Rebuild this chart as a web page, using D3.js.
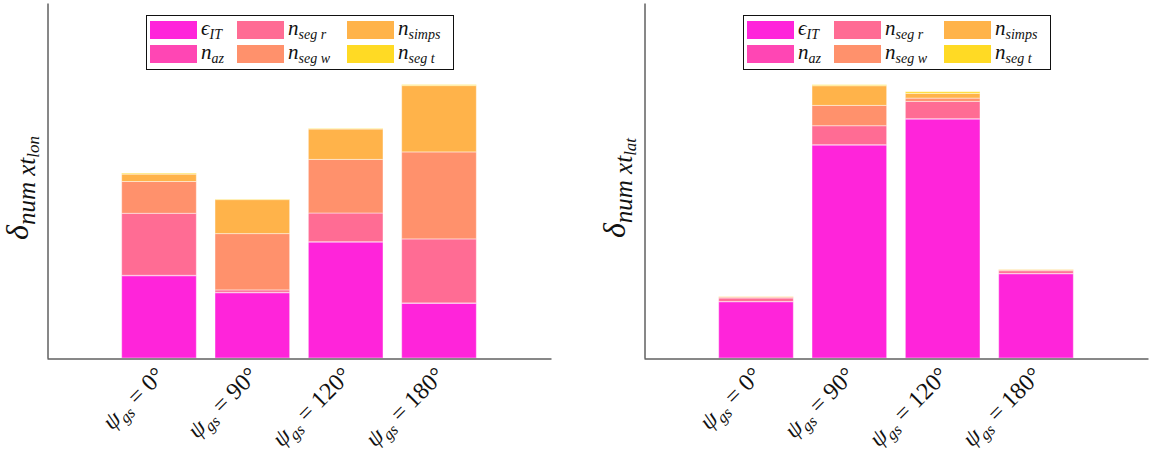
<!DOCTYPE html>
<html>
<head>
<meta charset="utf-8">
<script src="https://cdn.jsdelivr.net/npm/d3@7"></script>
<style>
  body { margin: 0; background: #fff; }
  svg text { font-family: "Liberation Serif", "DejaVu Serif", serif; fill: #111; }
</style>
</head>
<body>
<div id="chart"></div>
<script>

// categories (ground station azimuth)
const angles = ["0", "90", "120", "180"];

// series, bottom to top of each stack
const seriesKeys = ["eIT", "naz", "nsegr", "nsegw", "nsimps", "nsegt"];
const seriesColors = ["#ff24da", "#ff46b4", "#ff6c94", "#ff916c", "#ffb34a", "#ffda24"];

// left panel: delta num xt_lon
const lonEIT    = [0.823, 0.653, 1.160, 0.547];
const lonNaz    = [0.004, 0.004, 0.003, 0.004];
const lonNsegR  = [0.620, 0.024, 0.287, 0.640];
const lonNsegW  = [0.318, 0.563, 0.536, 0.870];
const lonNsimps = [0.074, 0.340, 0.304, 0.663];
const lonNsegT  = [0.010, 0.005, 0.005, 0.010];

// right panel: delta num xt_lat
const latEIT    = [0.563, 2.130, 2.390, 0.843];
const latNaz    = [0.003, 0.003, 0.003, 0.003];
const latNsegR  = [0.034, 0.190, 0.173, 0.027];
const latNsegW  = [0.010, 0.203, 0.033, 0.010];
const latNsimps = [0.003, 0.197, 0.047, 0.003];
const latNsegT  = [0.002, 0.010, 0.017, 0.002];

const yMax = 3.55;

const width = 1152, height = 455;

const svg = d3.select("#chart").append("svg")
    .attr("width", width)
    .attr("height", height);

function buildRows(cols) {
    return angles.map(function(a, i) {
        let row = {angle: a};
        seriesKeys.forEach(function(k, j) { row[k] = cols[j][i]; });
        return row;
    });
}

function drawPanel(opts) {
    let left = opts.left, right = opts.left + 504;
    let top = 3, bottom = 358;

    let g = svg.append("g");

    let x = d3.scaleBand()
        .domain(angles)
        .range([left, right])
        .paddingInner(0.2)
        .paddingOuter(0.8);

    let y = d3.scaleLinear()
        .domain([0, yMax])
        .range([bottom, top]);

    let rows = buildRows(opts.cols);
    let stacked = d3.stack().keys(seriesKeys)(rows);

    g.selectAll(".layer")
        .data(stacked)
        .enter().append("g")
        .attr("class", "layer")
        .attr("fill", function(d, i) { return seriesColors[i]; })
        .selectAll("rect")
        .data(function(d) { return d; })
        .enter().append("rect")
        .attr("x", function(d) { return x(d.data.angle); })
        .attr("width", x.bandwidth())
        .attr("y", function(d) { return y(d[1]); })
        .attr("height", function(d) { return Math.max(0, y(d[0]) - y(d[1])); })
        .attr("stroke", "#ffffff")
        .attr("stroke-opacity", 0.45)
        .attr("stroke-width", 1);

    // axes
    let yAxis = d3.axisLeft(y).ticks(0).tickSize(0).tickSizeOuter(0);
    let xAxis = d3.axisBottom(x).tickSize(0).tickFormat(function() { return ""; });

    g.append("g")
        .attr("transform", "translate(" + (left + 0.5) + ",0)")
        .call(yAxis)
        .call(function(s) { s.select(".domain").attr("stroke", "#111"); });

    g.append("g")
        .attr("transform", "translate(0," + (bottom + 0.5) + ")")
        .call(xAxis)
        .call(function(s) { s.select(".domain").attr("stroke", "#111"); });

    // tick labels, rotated
    let lab = g.selectAll(".xlab")
        .data(angles)
        .enter().append("text")
        .attr("class", "xlab")
        .attr("text-anchor", "end")
        .attr("transform", function(d) {
            return "translate(" + (x(d) + x.bandwidth() / 2 + 7) + "," + 377 + ") rotate(-45)";
        })
        .style("font-size", "24px");
    lab.append("tspan").style("font-style", "italic").text("ψ");
    lab.append("tspan").style("font-style", "italic").style("font-size", "16px").attr("dy", 5).text("gs");
    lab.append("tspan").attr("dy", -5).text(function(d) { return " = " + d + "°"; });

    // y label
    let yl = g.append("text")
        .attr("text-anchor", "middle")
        .attr("transform", "translate(" + (left - 19) + ",188) rotate(-90)")
        .style("font-style", "italic")
        .style("font-size", "32px");
    yl.append("tspan").text("δ");
    yl.append("tspan").attr("dy", 7).style("font-size", "25px").text("num  xt");
    yl.append("tspan").attr("dy", 4).style("font-size", "17px").text(opts.sub);

    // legend
    let lg = g.append("g").attr("transform", "translate(" + (left + 99) + ",15)");
    lg.append("rect")
        .attr("x", 0.5).attr("y", 0.5)
        .attr("width", 307).attr("height", 54)
        .attr("fill", "#fff")
        .attr("stroke", "#111");

    let legendItems = [
        {k: 0, col: 0, row: 0, main: "ϵ", sub: "IT"},
        {k: 1, col: 0, row: 1, main: "n", sub: "az"},
        {k: 2, col: 1, row: 0, main: "n", sub: "seg  r"},
        {k: 3, col: 1, row: 1, main: "n", sub: "seg  w"},
        {k: 4, col: 2, row: 0, main: "n", sub: "simps"},
        {k: 5, col: 2, row: 1, main: "n", sub: "seg  t"}
    ];
    let colX = [4, 91, 201];

    let it = lg.selectAll(".item")
        .data(legendItems)
        .enter().append("g")
        .attr("class", "item")
        .attr("transform", function(d) { return "translate(" + colX[d.col] + "," + (6 + d.row * 24) + ")"; });

    it.append("rect")
        .attr("width", 47).attr("height", 18)
        .attr("fill", function(d) { return seriesColors[d.k]; });

    let t = it.append("text")
        .attr("x", 51).attr("y", 14)
        .style("font-style", "italic")
        .style("font-size", "21px");
    t.append("tspan").text(function(d) { return d.main; });
    t.append("tspan").attr("dy", 4).style("font-size", "14px").text(function(d) { return d.sub; });
}

drawPanel({left: 47, sub: "lon",
    cols: [lonEIT, lonNaz, lonNsegR, lonNsegW, lonNsimps, lonNsegT]});

drawPanel({left: 644, sub: "lat",
    cols: [latEIT, latNaz, latNsegR, latNsegW, latNsimps, latNsegT]});

</script>
</body>
</html>
